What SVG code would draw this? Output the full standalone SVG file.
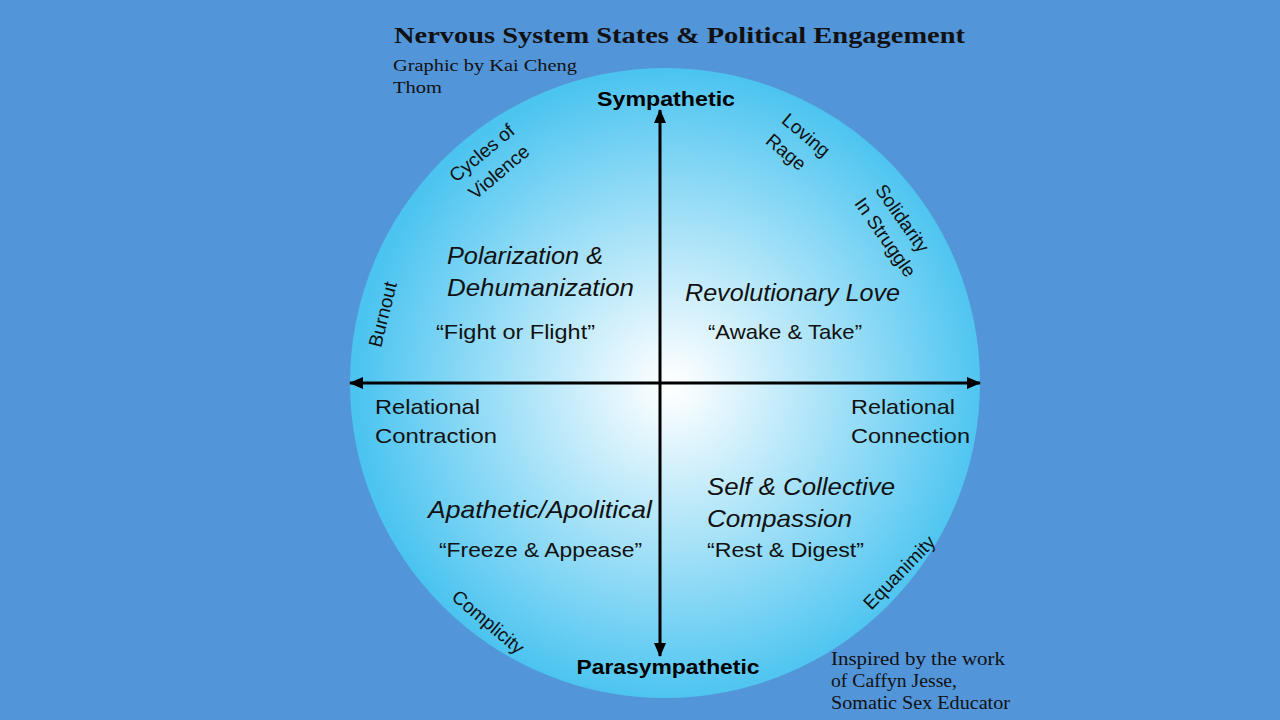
<svg xmlns="http://www.w3.org/2000/svg" width="1280" height="720" viewBox="0 0 1280 720">
  <defs>
    <radialGradient id="g" cx="672" cy="386" r="315" gradientUnits="userSpaceOnUse">
      <stop offset="0" stop-color="#FFFFFF"/>
      <stop offset="0.08" stop-color="#F4FBFE"/>
      <stop offset="1" stop-color="#4CC4F0"/>
    </radialGradient>
    <marker id="ah" markerWidth="14" markerHeight="12" refX="13" refY="6" orient="auto-start-reverse" markerUnits="userSpaceOnUse">
      <path d="M0,0 L14,6 L0,12 Z" fill="#000"/>
    </marker>
    <style>
      .serif{font-family:"Liberation Serif","DejaVu Serif",serif;fill:#111}
      .sans{font-family:"Liberation Sans","Noto Sans",Arial,sans-serif;fill:#111}
      .axis{font-family:"Liberation Sans",Arial,sans-serif;font-weight:bold;font-size:21px;fill:#000;text-anchor:middle}
      .head{font-size:24px;font-style:italic}
      .quote{font-size:21px}
      .rel{font-size:21px}
      .edge{font-size:19px;text-anchor:middle}
      .ax{stroke:#000;stroke-width:3;fill:none}
    </style>
  </defs>
  <rect width="1280" height="720" fill="#5395D9"/>
  <circle id="disc" cx="665" cy="383" r="315" fill="url(#g)"/>

  <g id="title">
    <text class="serif" x="394" y="43" font-size="24" font-weight="bold" textLength="571" lengthAdjust="spacingAndGlyphs">Nervous System States &amp; Political Engagement</text>
    <text class="serif" x="393" y="71" font-size="17" textLength="184" lengthAdjust="spacingAndGlyphs">Graphic by Kai Cheng</text>
    <text class="serif" x="393" y="93" font-size="17" textLength="49" lengthAdjust="spacingAndGlyphs">Thom</text>
  </g>

  <g id="connectors">
    <line class="ax" x1="660" y1="656" x2="660" y2="110" marker-end="url(#ah)" marker-start="url(#ah)"/>
    <line class="ax" x1="350" y1="383" x2="980" y2="383" marker-end="url(#ah)" marker-start="url(#ah)"/>
  </g>

  <g id="sympathetic"><text class="axis" x="666" y="106" textLength="138" lengthAdjust="spacingAndGlyphs">Sympathetic</text></g>
  <g id="parasympathetic"><text class="axis" x="668" y="674" textLength="183" lengthAdjust="spacingAndGlyphs">Parasympathetic</text></g>

  <g id="q-polarization">
    <text class="sans head" x="447" y="264" textLength="156" lengthAdjust="spacingAndGlyphs">Polarization &amp;</text>
    <text class="sans head" x="447" y="296" textLength="187" lengthAdjust="spacingAndGlyphs">Dehumanization</text>
    <text class="sans quote" x="436" y="339" textLength="159" lengthAdjust="spacingAndGlyphs">“Fight or Flight”</text>
  </g>
  <g id="q-revolutionary">
    <text class="sans head" x="685" y="301" textLength="215" lengthAdjust="spacingAndGlyphs">Revolutionary Love</text>
    <text class="sans quote" x="708" y="339" textLength="154" lengthAdjust="spacingAndGlyphs">“Awake &amp; Take”</text>
  </g>
  <g id="q-apathetic">
    <text class="sans head" x="428" y="518" textLength="224" lengthAdjust="spacingAndGlyphs">Apathetic/Apolitical</text>
    <text class="sans quote" x="439" y="557" textLength="203" lengthAdjust="spacingAndGlyphs">“Freeze &amp; Appease”</text>
  </g>
  <g id="q-compassion">
    <text class="sans head" x="707" y="495" textLength="188" lengthAdjust="spacingAndGlyphs">Self &amp; Collective</text>
    <text class="sans head" x="707" y="527" textLength="145" lengthAdjust="spacingAndGlyphs">Compassion</text>
    <text class="sans quote" x="707" y="557" textLength="157" lengthAdjust="spacingAndGlyphs">“Rest &amp; Digest”</text>
  </g>

  <g id="contraction">
    <text class="sans rel" x="375" y="414" textLength="105" lengthAdjust="spacingAndGlyphs">Relational</text>
    <text class="sans rel" x="375" y="443" textLength="122" lengthAdjust="spacingAndGlyphs">Contraction</text>
  </g>
  <g id="connection">
    <text class="sans rel" x="851" y="414" textLength="104" lengthAdjust="spacingAndGlyphs">Relational</text>
    <text class="sans rel" x="851" y="443" textLength="119" lengthAdjust="spacingAndGlyphs">Connection</text>
  </g>

  <g id="burnout"><text class="sans edge" transform="translate(389,316) rotate(-76)">Burnout</text></g>
  <g id="cycles">
    <text class="sans edge" transform="translate(486,158) rotate(-40)">Cycles of</text>
    <text class="sans edge" transform="translate(503,177) rotate(-40)">Violence</text>
  </g>
  <g id="loving">
    <text class="sans edge" transform="translate(802,140) rotate(40)">Loving</text>
    <text class="sans edge" transform="translate(782,157) rotate(40)">Rage</text>
  </g>
  <g id="solidarity">
    <text class="sans edge" transform="translate(897,222) rotate(55)">Solidarity</text>
    <text class="sans edge" transform="translate(880,241) rotate(55)">In Struggle</text>
  </g>
  <g id="complicity"><text class="sans edge" transform="translate(484,627) rotate(40)">Complicity</text></g>
  <g id="equanimity"><text class="sans edge" transform="translate(904,577) rotate(-46)">Equanimity</text></g>

  <g id="credit">
    <text class="serif" x="831" y="665" font-size="18" textLength="174" lengthAdjust="spacingAndGlyphs">Inspired by the work</text>
    <text class="serif" x="831" y="687" font-size="18" textLength="126" lengthAdjust="spacingAndGlyphs">of Caffyn Jesse,</text>
    <text class="serif" x="831" y="709" font-size="18" textLength="179" lengthAdjust="spacingAndGlyphs">Somatic Sex Educator</text>
  </g>
</svg>
